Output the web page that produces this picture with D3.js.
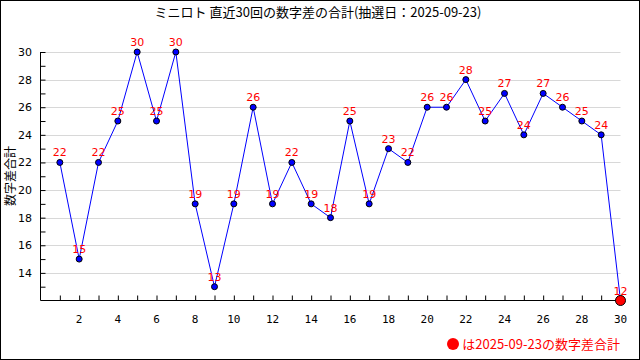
<!DOCTYPE html>
<html>
<head>
<meta charset="utf-8">
<script src="https://cdn.jsdelivr.net/npm/d3@7"></script>
<style>
  body { margin: 0; background: #fff; }
  svg { display: block; }
</style>
</head>
<body>
<div id="chart"></div>
<script>
var svgWidth = 640;
var svgHeight = 360;

// data
var draws = d3.range(1, 31);
var sums = [22, 15, 22, 25, 30, 25, 30, 19, 13, 19, 26, 19, 22, 19, 18, 25, 19, 23, 22, 26, 26, 28, 25, 27, 24, 27, 26, 25, 24, 12];
var yTicks = [14, 16, 18, 20, 22, 24, 26, 28, 30];
var xTicks = [2, 4, 6, 8, 10, 12, 14, 16, 18, 20, 22, 24, 26, 28, 30];
var titleText = "ミニロト 直近30回の数字差の合計(抽選日：2025-09-23)";
var legendText = "は2025-09-23の数字差合計";

var svg = d3.select("#chart")
  .append("svg")
  .attr("width", svgWidth)
  .attr("height", svgHeight);

// frame
svg.append("rect")
  .attr("x", 0.5).attr("y", 0.5)
  .attr("width", svgWidth - 1).attr("height", svgHeight - 1)
  .attr("fill", "#fff").attr("stroke", "#000");

var x = d3.scaleLinear().domain([0, 30]).range([40.5, 620.5]);
var y = d3.scaleLinear().domain([12, 30]).range([300.5, 52]);

// grid lines
svg.append("g")
  .selectAll("line")
  .data(yTicks)
  .enter()
  .append("line")
  .attr("x1", x(0)).attr("x2", x(30))
  .attr("y1", d => Math.round(y(d)) + 0.5)
  .attr("y2", d => Math.round(y(d)) + 0.5)
  .attr("stroke", "#d8d8d8");

// y axis
var yAxis = svg.append("g")
  .attr("transform", `translate(${x(0)},0)`)
  .call(d3.axisRight(y).tickValues(d3.range(13, 31)).tickSize(5).tickFormat(""));
yAxis.select(".domain").attr("d", `M0,${y(12)}V${y(30)}`);
svg.append("g")
  .selectAll("text")
  .data(yTicks)
  .enter()
  .append("text")
  .attr("x", 32)
  .attr("y", d => y(d) + 4)
  .attr("text-anchor", "end")
  .attr("font-family", "DejaVu Sans")
  .attr("font-size", "11px")
  .text(d => d);

// x axis
var xAxis = svg.append("g")
  .attr("transform", `translate(0,${y(12)})`)
  .call(d3.axisTop(x).tickValues(d3.range(1, 31)).tickSize(5).tickFormat(""));
xAxis.select(".domain").attr("d", `M${x(0)},0H${x(30)}`);
svg.append("g")
  .selectAll("text")
  .data(xTicks)
  .enter()
  .append("text")
  .attr("x", d => x(d))
  .attr("y", 323)
  .attr("text-anchor", "middle")
  .attr("font-family", "DejaVu Sans Mono")
  .attr("font-size", "11px")
  .text(d => d);

// line
var line = d3.line()
  .x((d, i) => x(draws[i]))
  .y(d => y(d));
svg.append("path")
  .datum(sums)
  .attr("d", line)
  .attr("fill", "none")
  .attr("stroke", "#0000ff")
  .attr("stroke-width", 1);

// points
var last = sums.length - 1;
svg.append("g")
  .selectAll("circle")
  .data(sums)
  .enter()
  .append("circle")
  .attr("cx", (d, i) => x(draws[i]))
  .attr("cy", d => y(d))
  .attr("r", (d, i) => i === last ? 5 : 3)
  .attr("fill", (d, i) => i === last ? "#ff0000" : "#0000ff")
  .attr("stroke", "#000");

// value labels
svg.append("g")
  .selectAll("text")
  .data(sums)
  .enter()
  .append("text")
  .attr("x", (d, i) => x(draws[i]))
  .attr("y", d => y(d) - 6)
  .attr("text-anchor", "middle")
  .attr("font-family", "DejaVu Sans")
  .attr("font-size", "11px")
  .attr("fill", "#ff0000")
  .text(d => d);

// title
svg.append("text")
  .attr("x", 318)
  .attr("y", 17)
  .attr("text-anchor", "middle")
  .attr("font-family", "Noto Sans CJK JP")
  .attr("font-size", "13px")
  .text(titleText);

// y label
svg.append("text")
  .attr("transform", "translate(15,176) rotate(-90)")
  .attr("text-anchor", "middle")
  .attr("font-family", "Noto Sans CJK JP")
  .attr("font-size", "12px")
  .text("数字差合計");

// legend
svg.append("circle")
  .attr("cx", 453).attr("cy", 344)
  .attr("r", 6)
  .attr("fill", "#ff0000");
svg.append("text")
  .attr("x", 620)
  .attr("y", 349)
  .attr("text-anchor", "end")
  .attr("font-family", "Noto Sans CJK JP")
  .attr("font-size", "13px")
  .attr("fill", "#ff0000")
  .text(legendText);
</script>
</body>
</html>
